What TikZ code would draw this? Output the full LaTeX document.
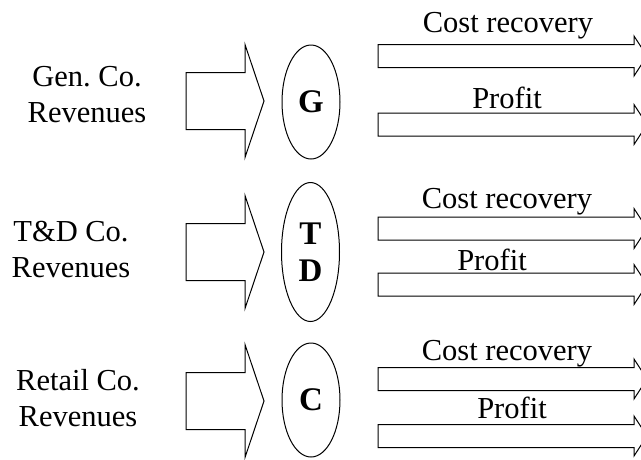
\documentclass[tikz,border=0pt]{standalone}
\usepackage{fontspec}
\setmainfont{Liberation Serif}
\usetikzlibrary{shapes.geometric}
\frenchspacing
\tikzset{
  txt/.style={font=\fontsize{30.5}{36}\selectfont, inner sep=0pt},
  company/.style={txt, align=center},
  flowlbl/.style={txt, anchor=base},
  hub/.style={draw, ellipse, inner sep=0pt, minimum width=58pt,
    font=\fontsize{33}{37}\selectfont\bfseries, align=center},
  pics/bigarrow/.style={code={
    \draw (0,-28.5) -- (59,-28.5) -- (59,-56.5) -- (78,0)
          -- (59,56.5) -- (59,28.5) -- (0,28.5) -- cycle;}},
  pics/flowarrow/.style={code={
    \draw (0,-11.5) -- (256,-11.5) -- (256,-20) -- (269,0)
          -- (256,20) -- (256,11.5) -- (0,11.5) -- cycle;}}
}
\begin{document}
\begin{tikzpicture}[x=1pt, y=-1pt, line width=1pt, line join=miter]
\useasboundingbox (0,0) rectangle (641,459);
\clip (0,0) rectangle (641,459);

% company revenue labels
\node[company] (gen)    at (87,94.5)  {Gen. Co.\\Revenues};
\node[company] (td)     at (71,249.5) {T\&D Co.\\Revenues};
\node[company] (retail) at (78,398)   {Retail Co.\\Revenues};

% revenue inflows
\pic at (186,101) {bigarrow};
\pic at (186,252) {bigarrow};
\pic at (186,401) {bigarrow};

% company hubs
\node[hub, minimum height=114pt] (G)  at (311,102) {G};
\node[hub, minimum height=139pt] (TD) at (310.5,252) {T\\D};
\node[hub, minimum height=114pt] (C)  at (311,400) {C};

% outflows: cost recovery and profit
\pic at (378,56)    {flowarrow};
\pic at (378,124.5) {flowarrow};
\pic at (378,228.5) {flowarrow};
\pic at (378,284.5) {flowarrow};
\pic at (378,379)   {flowarrow};
\pic at (378,436)   {flowarrow};

\node[flowlbl] (gcost)   at (508,32)  {Cost recovery};
\node[flowlbl] (gprofit) at (507,108) {Profit};
\node[flowlbl] (tcost)   at (507,208) {Cost recovery};
\node[flowlbl] (tprofit) at (492,270) {Profit};
\node[flowlbl] (ccost)   at (507,360) {Cost recovery};
\node[flowlbl] (cprofit) at (512,418) {Profit};
\end{tikzpicture}
\end{document}
